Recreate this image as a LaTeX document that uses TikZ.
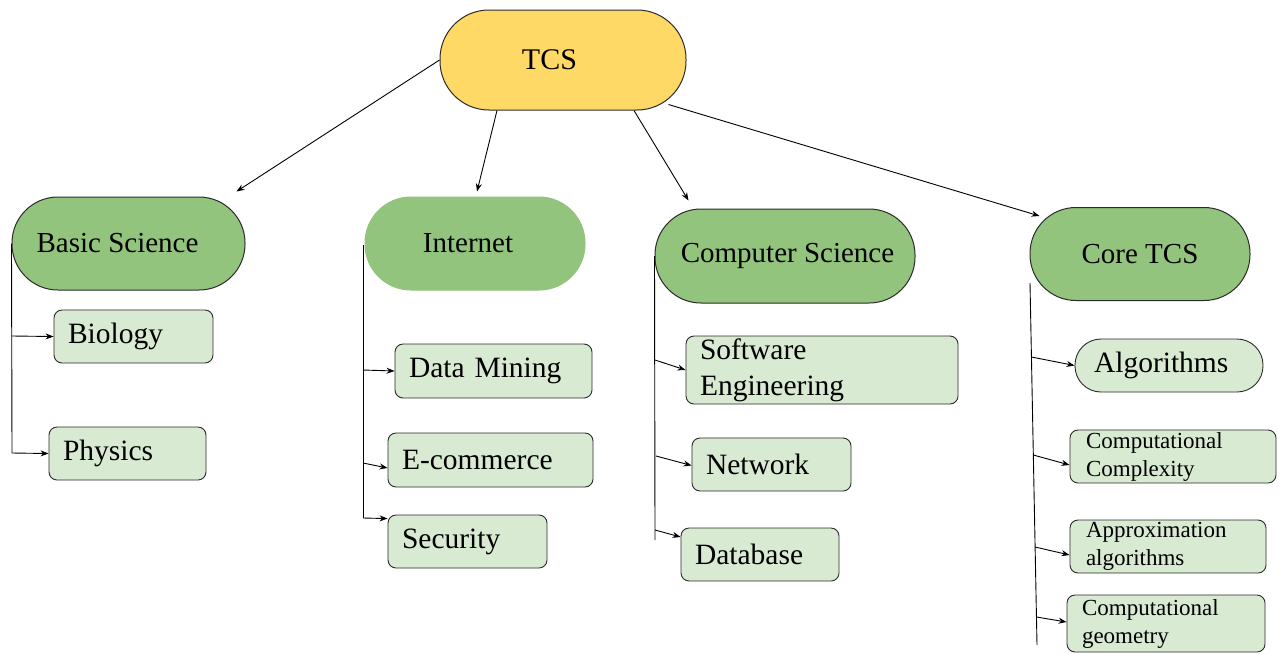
\documentclass[tikz,border=0pt]{standalone}
\usepackage{fontspec}
\setmainfont{Liberation Serif}
\usetikzlibrary{arrows.meta,calc}
\definecolor{tcsyellow}{HTML}{FFD966}
\definecolor{pgreen}{HTML}{93C47D}
\definecolor{cgreen}{HTML}{D9EAD3}
\definecolor{edgec}{HTML}{2B2B2B}
\begin{document}
\begin{tikzpicture}[x=1pt,y=-1pt,
 root/.style={draw=edgec, line width=1pt, fill=tcsyellow, rounded corners=49pt, minimum width=246pt, minimum height=100pt, inner sep=0pt, font=\fontsize{30}{36}\selectfont},
 parent/.style={draw=edgec, line width=1pt, fill=pgreen, rounded corners=46pt, minimum height=93pt, inner sep=0pt, font=\fontsize{29}{36}\selectfont},
 leaf/.style={draw=edgec, line width=0.9pt, fill=cgreen, rounded corners=8pt, inner xsep=14pt, inner ysep=0pt, align=left, font=\fontsize{29.5}{36}\selectfont},
 small/.style={font=\fontsize{23}{28}\selectfont},
 arr/.style={draw=black, line width=0.9pt, -{Stealth[length=8pt,width=6pt]}},
 trunk/.style={draw=black, line width=0.9pt}
]
\fill[white] (0,0) rectangle (1279,654);
\useasboundingbox (0,0) rectangle (1279,654);

% root
\node[root] (tcs) at (563,60) {TCS\hspace*{27pt}};

% parents
\node[parent, minimum width=233pt] (bs) at (128.5,243.5) {Basic Science\hspace*{22pt}};
\node[parent, minimum width=220pt, draw=pgreen] (inet) at (475,243.5) {Internet\hspace*{14pt}};
\node[parent, minimum width=260pt, minimum height=94pt] (cs) at (785,256) {\hspace*{5pt}Computer Science};
\node[parent, minimum width=220pt] (core) at (1140,254) {Core TCS};

% leaves: Basic Science
\node[leaf, text width=131pt, minimum height=53pt] (bio) at (133.5,336.5) {Biology};
\node[leaf, text width=129pt, minimum height=53pt] (phy) at (127.5,453.5) {Physics};
% leaves: Internet
\node[leaf, text width=169pt, minimum height=54pt] (dm) at (493.5,371) {Data Mining};
\node[leaf, text width=177pt, minimum height=54pt] (ec) at (490.5,460) {E-commerce};
\node[leaf, text width=131pt, minimum height=53pt] (sec) at (467.5,541.5) {Security};
% leaves: Computer Science
\node[leaf, text width=244pt, minimum height=68pt] (se) at (822,370) {Software\\Engineering};
\node[leaf, text width=131pt, minimum height=53pt] (net) at (771.5,464.5) {Network};
\node[leaf, text width=130pt, minimum height=53pt] (db) at (760,554.5) {Database};
% leaves: Core TCS
\node[leaf, rounded corners=26pt, inner xsep=19pt, text width=150pt, minimum height=53pt] (alg) at (1169,365.5) {Algorithms};
\node[leaf, small, inner xsep=16pt, text width=174pt, minimum height=53pt] (cc) at (1173,456.5) {Computational\\Complexity};
\node[leaf, small, inner xsep=16pt, text width=164pt, minimum height=53pt] (aa) at (1168,546.5) {Approximation\\algorithms};
\node[leaf, small, inner xsep=15pt, text width=168pt, minimum height=57pt] (cg) at (1166,623.5) {Computational\\geometry};

% root connectors
\draw[arr] (tcs.west) -- ([shift={(-9,-5)}]bs.north east);
\draw[arr] ([xshift=-66pt]tcs.south) -- ([shift={(2,-5)}]inet.north);
\draw[arr] ([xshift=71pt]tcs.south) -- ([shift={(34,-8)}]cs.north west);
\draw[arr] ([shift={(-18,-6)}]tcs.south east) -- ([shift={(10,9)}]core.north west);

% Basic Science branch
\coordinate (bsA1) at (12,336);
\coordinate (bsEnd) at (12,453);
\draw[trunk] (bs.west) -- (bsEnd);
\draw[arr] (bsA1) -- (bio.west);
\draw[arr] (bsEnd) -- (phy.west);

% Internet branch
\coordinate (inTop) at (363,245);
\coordinate (inA1) at (363,370);
\coordinate (inA2) at (363,463);
\coordinate (inEnd) at (363,518);
\draw[trunk] (inTop) -- (inEnd);
\draw[arr] (inA1) -- (dm.west);
\draw[arr] (inA2) -- ([yshift=-8pt]ec.west);
\draw[arr] (inEnd) -- ([yshift=-4pt]sec.north west);

% Computer Science branch
\coordinate (csA1) at (655,360);
\coordinate (csA2) at (656,456);
\coordinate (csA3) at (655,530);
\coordinate (csEnd) at (655,540);
\draw[trunk] (cs.west) -- (csEnd);
\draw[arr] (csA1) -- (se.west);
\draw[arr] (csA2) -- ([yshift=-1pt]net.west);
\draw[arr] (csA3) -- ([yshift=17.5pt]db.west);

% Core TCS branch
\coordinate (coreTop) at (1030,283);
\coordinate (coA1) at (1031.4,357);
\coordinate (coA2) at (1033.3,455);
\coordinate (coA3) at (1035.1,547);
\coordinate (coA4) at (1036.5,617);
\coordinate (coreEnd) at (1037,645);
\draw[trunk] (coreTop) -- (coreEnd);
\draw[arr] (coA1) -- (alg.west);
\draw[arr] (coA2) -- ([yshift=-8.5pt]cc.west);
\draw[arr] (coA3) -- ([yshift=-8.5pt]aa.west);
\draw[arr] (coA4) -- ([yshift=1.5pt]cg.west);
\end{tikzpicture}
\end{document}
